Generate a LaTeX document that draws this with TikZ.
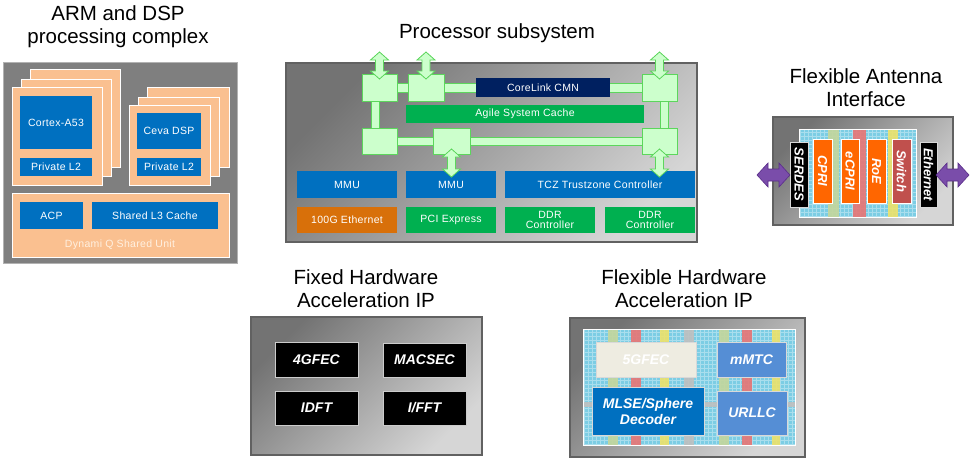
\documentclass[tikz,border=0pt]{standalone}
\usepackage{fontspec}
\setmainfont{Liberation Sans}
\usetikzlibrary{calc}
\definecolor{bluebox}{HTML}{0070C0}
\definecolor{peach}{HTML}{FAC090}
\definecolor{armgray}{HTML}{7F7F7F}
\definecolor{gfill}{HTML}{CCFFCC}
\definecolor{gline}{HTML}{5CD65C}
\definecolor{navy}{HTML}{002060}
\definecolor{greenbox}{HTML}{00B050}
\definecolor{ethorange}{HTML}{D8700A}
\definecolor{aorange}{HTML}{FF6600}
\definecolor{swred}{HTML}{C0504D}
\definecolor{gridcyan}{HTML}{7CCDE4}
\definecolor{stgreen}{HTML}{C3D69B}
\definecolor{stred}{HTML}{E87474}
\definecolor{styellow}{HTML}{EDE26A}
\definecolor{stgray}{HTML}{BFBFBF}
\definecolor{purp}{HTML}{7A4DAA}
\definecolor{purpdark}{HTML}{5A2D8A}
\definecolor{fecbeige}{HTML}{EEECE1}
\definecolor{midblue}{HTML}{558ED5}
\definecolor{peachtext}{HTML}{FFF0E0}
% box by corners: style, x1, y1, x2, y2, name
\newcommand\bx[6]{\node[#1, minimum width={(#4-#2)*1pt}, minimum height={(#5-#3)*1pt}] (#6) at ({(#2+#4)/2},{(#3+#5)/2})}
% rotated box by corners
\newcommand\rbx[6]{\node[#1, rotate=-90, minimum height={(#4-#2)*1pt}, minimum width={(#5-#3)*1pt}] (#6) at ({(#2+#4)/2},{(#3+#5)/2})}
% vertical double arrow: cx, ytop, ybottom
\newcommand\vdarrow[3]{\draw[garrow] (#1,#2) -- ({#1+9},{#2+8}) -- ({#1+4},{#2+8}) -- ({#1+4},{#3-8}) -- ({#1+9},{#3-8}) -- (#1,#3) -- ({#1-9},{#3-8}) -- ({#1-4},{#3-8}) -- ({#1-4},{#2+8}) -- ({#1-9},{#2+8}) -- cycle;}
% horizontal double arrow: xleft, xright, cy
\newcommand\hdarrow[3]{\draw[parrow] (#1,#3) -- ({#1+11},{#3-12}) -- ({#1+11},{#3-6}) -- ({#2-11},{#3-6}) -- ({#2-11},{#3-12}) -- (#2,#3) -- ({#2-11},{#3+12}) -- ({#2-11},{#3+6}) -- ({#1+11},{#3+6}) -- ({#1+11},{#3+12}) -- cycle;}
% grid fill: x1,y1,x2,y2
\newcommand\gridfill[4]{\fill[gridcyan] (#1,#2) rectangle (#3,#4); \draw[white, opacity=0.35, line width=0.5pt, step=4pt] (#1,#4) grid (#3,#2);}
\begin{document}
\begin{tikzpicture}[x=1pt,y=-1pt,
  every node/.style={inner sep=1pt, outer sep=0pt},
  title/.style={font=\fontsize{20.5}{23}\selectfont, align=center},
  small/.style={font=\fontsize{10.5}{11.5}\selectfont\addfontfeatures{LetterSpace=3}, text=white, align=center},
  blu/.style={small, fill=bluebox},
  pch/.style={fill=peach, draw=white, line width=0.8pt},
  gnode/.style={fill=gfill, draw=gline, line width=0.8pt},
  grn/.style={small, fill=greenbox},
  garrow/.style={fill=gfill, draw=gline, line width=0.8pt},
  parrow/.style={fill=purp, draw=purpdark, line width=0.6pt},
  bigbox/.style={draw=black!62, line width=1.6pt, shading=axis, top color=black!55, bottom color=black!16, shading angle=45},
  blk/.style={fill=black, draw=black!20, line width=0.8pt, text=white, font=\fontsize{14}{16}\selectfont\bfseries\itshape},
  acc/.style={draw=white!85!black, line width=0.8pt, text=white, font=\fontsize{14}{16}\selectfont\bfseries\itshape, align=center},
  ant/.style={draw=white, line width=0.8pt, text=white, font=\fontsize{13}{14}\selectfont\bfseries\itshape}
]
\useasboundingbox (0,0) rectangle (972,463);
\fill[white] (0,0) rectangle (972,463);

% ---------------- ARM and DSP processing complex ----------------
\node[title] (t1) at (118,27) {ARM and DSP\\processing complex};
\bx{fill=armgray, draw=black!30, line width=1pt}{3}{62}{237}{263}{armbox} {};
\bx{pch}{30}{69}{120}{167}{cs3} {};
\bx{pch}{21}{79}{111}{176}{cs2} {};
\bx{pch}{12}{87}{102}{185}{cs1} {};
\bx{pch}{147}{87}{229}{167}{ds3} {};
\bx{pch}{138}{97}{219}{176}{ds2} {};
\bx{pch}{129}{105}{210}{185}{ds1} {};
\bx{blu}{20}{96}{92}{149}{cortex} {Cortex-A53};
\bx{blu}{20}{158}{92}{176}{cl2} {Private L2};
\bx{blu}{137}{113}{201}{149}{ceva} {Ceva DSP};
\bx{blu}{137}{158}{201}{176}{dl2} {Private L2};
\bx{pch}{12}{193}{229}{257}{dsu} {};
\bx{blu}{20}{202}{83}{229}{acp} {ACP};
\bx{blu}{92}{202}{218}{229}{l3} {Shared L3 Cache};
\node[small, text=peachtext] (dsutext) at (120,245) {Dynami Q Shared Unit};

% ---------------- Processor subsystem ----------------
\node[title] (t2) at (497,33) {Processor subsystem};
\bx{bigbox}{286}{63}{697}{242}{procbox} {};
% ring bars
\bx{gnode}{397}{83}{408}{92}{b12} {};
\bx{gnode}{444}{83}{642}{92}{b23} {};
\bx{gnode}{397}{137}{433}{145}{b45} {};
\bx{gnode}{470}{137}{642}{145}{b56} {};
\bx{gnode}{371}{101}{379}{128}{b14} {};
\bx{gnode}{660}{101}{668}{128}{b36} {};
% ring nodes
\bx{gnode}{362}{74}{397}{101}{n1} {};
\bx{gnode}{408}{74}{444}{101}{n2} {};
\bx{gnode}{642}{74}{677}{101}{n3} {};
\bx{gnode}{362}{128}{397}{154}{n4} {};
\bx{gnode}{433}{128}{470}{154}{n5} {};
\bx{gnode}{642}{128}{677}{154}{n6} {};
\bx{small, fill=navy}{476}{78}{610}{97}{cmn} {CoreLink CMN};
\bx{grn}{406}{105}{644}{123}{asc} {Agile System Cache};
\bx{blu}{297}{171}{397}{198}{mmu1} {MMU};
\bx{blu}{406}{171}{496}{198}{mmu2} {MMU};
\bx{blu}{505}{171}{695}{198}{tcz} {TCZ Trustzone Controller};
\bx{small, fill=ethorange}{297}{207}{397}{233}{eth} {100G Ethernet};
\bx{grn}{406}{207}{496}{233}{pcie} {PCI Express};
\bx{grn}{505}{207}{595}{233}{ddr1} {DDR\\[-1pt]Controller};
\bx{grn}{605}{207}{695}{233}{ddr2} {DDR\\[-1pt]Controller};
\vdarrow{379.5}{52}{79}
\vdarrow{426}{52}{79}
\vdarrow{659.5}{52}{79}
\vdarrow{451.5}{149}{177}
\vdarrow{659.5}{149}{177}

% ---------------- Flexible Antenna Interface ----------------
\node[title] (t3) at (866,88) {Flexible Antenna\\Interface};
\bx{bigbox}{773}{117}{953}{225}{antbox} {};
\gridfill{799}{129}{916}{217}
\draw[white, line width=0.8pt] (799,129) rectangle (916,217);
\fill[stgreen, opacity=0.9] (828,129.5) rectangle (839,216.5);
\fill[stred, opacity=0.9] (853,129.5) rectangle (866,216.5);
\fill[styellow, opacity=0.9] (888,129.5) rectangle (898,216.5);
\rbx{ant, fill=black, draw=black!15}{790}{142}{808}{207}{serdes} {SERDES};
\rbx{ant, fill=aorange}{813}{139}{832}{203}{cpri} {CPRI};
\rbx{ant, fill=aorange}{841}{139}{859}{203}{ecpri} {eCPRI};
\rbx{ant, fill=aorange}{867}{139}{886}{203}{roe} {RoE};
\rbx{ant, fill=swred}{892}{139}{911}{203}{switch} {Switch};
\rbx{ant, fill=black, draw=black!15}{920}{142}{937}{207}{ethernet} {Ethernet};
\hdarrow{757}{790}{175}
\hdarrow{936}{969}{175}

% ---------------- Fixed Hardware Acceleration IP ----------------
\node[title] (t4) at (366,289) {Fixed Hardware\\Acceleration IP};
\bx{bigbox}{251}{317}{482}{455}{fixbox} {};
\bx{blk}{275}{342}{358}{377}{fec4} {4GFEC};
\bx{blk}{383}{343}{466}{377}{macsec} {MACSEC};
\bx{blk}{275}{391}{358}{425}{idft} {IDFT};
\bx{blk}{383}{391}{466}{425}{ifft} {I/FFT};

% ---------------- Flexible Hardware Acceleration IP ----------------
\node[title] (t5) at (684,289) {Flexible Hardware\\Acceleration IP};
\bx{bigbox}{570}{318}{805}{457}{flexbox} {};
\gridfill{583}{329}{795}{445}
\fill[stgray, opacity=0.9] (583.5,402) rectangle (794.5,407);
\fill[stgreen, opacity=0.9] (608,329.5) rectangle (618,444.5);
\fill[stred, opacity=0.9] (631,329.5) rectangle (641,444.5);
\fill[styellow, opacity=0.9] (660,329.5) rectangle (669,444.5);
\fill[stgray, opacity=0.9] (684,329.5) rectangle (694,444.5);
\fill[stgreen, opacity=0.9] (719,329.5) rectangle (729,444.5);
\fill[stred, opacity=0.9] (742,329.5) rectangle (752,444.5);
\fill[styellow, opacity=0.9] (772,329.5) rectangle (780,444.5);
\draw[white, line width=0.8pt] (583,329) rectangle (795,445);
\bx{acc, fill=fecbeige}{596}{342}{696}{377}{fec5} {5GFEC};
\bx{acc, fill=midblue}{717}{342}{786}{377}{mmtc} {mMTC};
\bx{acc, fill=bluebox}{592}{387}{704}{435}{mlse} {MLSE/Sphere\\Decoder};
\bx{acc, fill=midblue}{717}{391}{787}{435}{urllc} {URLLC};
\end{tikzpicture}
\end{document}
